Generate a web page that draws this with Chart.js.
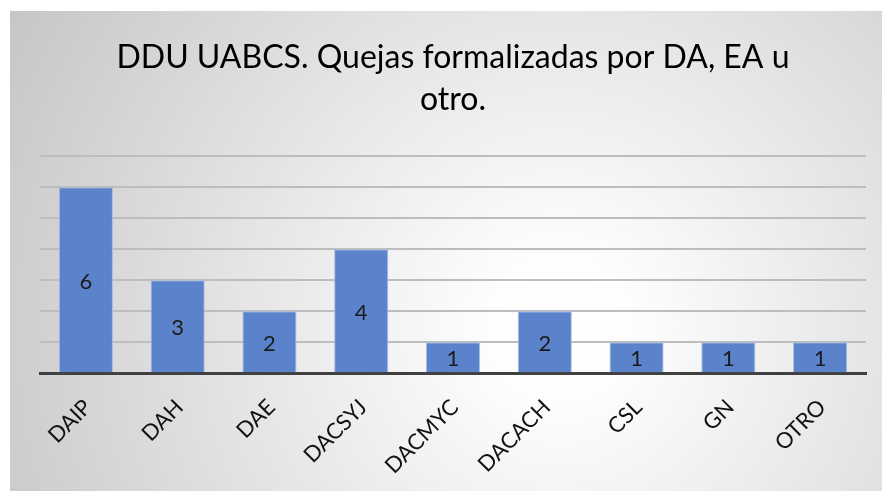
<!DOCTYPE html>
<html>
<head>
<meta charset="utf-8">
<script src="https://cdn.jsdelivr.net/npm/chart.js@4"></script>
<style>
  html, body { margin: 0; background: #c8c8c8; overflow: hidden; }
  #panel {
    position: fixed; left: 10px; top: 11px; right: 0; bottom: 0;
    background: radial-gradient(circle farthest-corner at 63% 66%, #ffffff 0%, #fdfdfd 12%, #c6c6c6 100%);
  }
  #top { position: fixed; left: 0; top: 0; right: 0; height: 11px; background: #fff; }
  #left { position: fixed; left: 0; top: 0; bottom: 0; width: 10px; background: #fff; }
  canvas { display: block; }
</style>
</head>
<body>
<div id="panel"><canvas id="g_quejas" width="872" height="490"></canvas></div>
<div id="top"></div><div id="left"></div>
<script>
// datos
const _labels = ['DAIP', 'DAH', 'DAE', 'DACSYJ', 'DACMYC', 'DACACH', 'CSL', 'GN', 'OTRO'];
const _data = [6, 3, 2, 4, 1, 2, 1, 1, 1];
const _title = ['DDU UABCS. Quejas formalizadas por DA, EA u', 'otro.'];

const _font = 'Lato, "Open Sans", sans-serif';

// numero dentro de cada barra
const barValues = {
    id: 'barValues',
    afterDatasetsDraw(chart) {
        const ctx = chart.ctx;
        const meta = chart.getDatasetMeta(0);
        ctx.save();
        ctx.font = '22px ' + _font;
        ctx.fillStyle = '#1a1a1a';
        ctx.textAlign = 'center';
        ctx.textBaseline = 'middle';
        meta.data.forEach((bar, i) => {
            ctx.fillText(chart.data.datasets[0].data[i], bar.x, (bar.y + bar.base) / 2 + 2);
        });
        ctx.restore();
    }
};

const _config = {
    type: 'bar',
    data: {
        labels: _labels,
        datasets: [{
            label: 'Quejas',
            data: _data,
            backgroundColor: '#5b83cc',
            borderColor: '#a8bde4',
            borderWidth: 1,
            categoryPercentage: 1,
            barPercentage: 0.59
        }]
    },
    options: {
        responsive: false,
        animation: false,
        layout: { padding: { left: 30, right: 16, top: 0, bottom: 9 } },
        plugins: {
            legend: { display: false },
            tooltip: { enabled: false },
            title: {
                display: true,
                text: _title,
                color: '#000',
                font: { family: _font, size: 32, weight: 'normal', lineHeight: 1.3 },
                padding: { top: 26, bottom: 36 }
            }
        },
        scales: {
            x: {
                grid: { display: false },
                border: { color: '#404040', width: 3 },
                ticks: {
                    color: '#111',
                    font: { family: _font, size: 22 },
                    minRotation: 45,
                    maxRotation: 45,
                    padding: 13,
                    labelOffset: 2
                }
            },
            y: {
                min: 0,
                max: 7,
                ticks: { display: false, stepSize: 1 },
                border: { display: false },
                grid: { color: '#bdbdbd', lineWidth: 2, drawTicks: false }
            }
        }
    },
    plugins: [barValues]
};

const _chart = new Chart(document.getElementById('g_quejas').getContext('2d'), _config);
</script>
</body>
</html>
